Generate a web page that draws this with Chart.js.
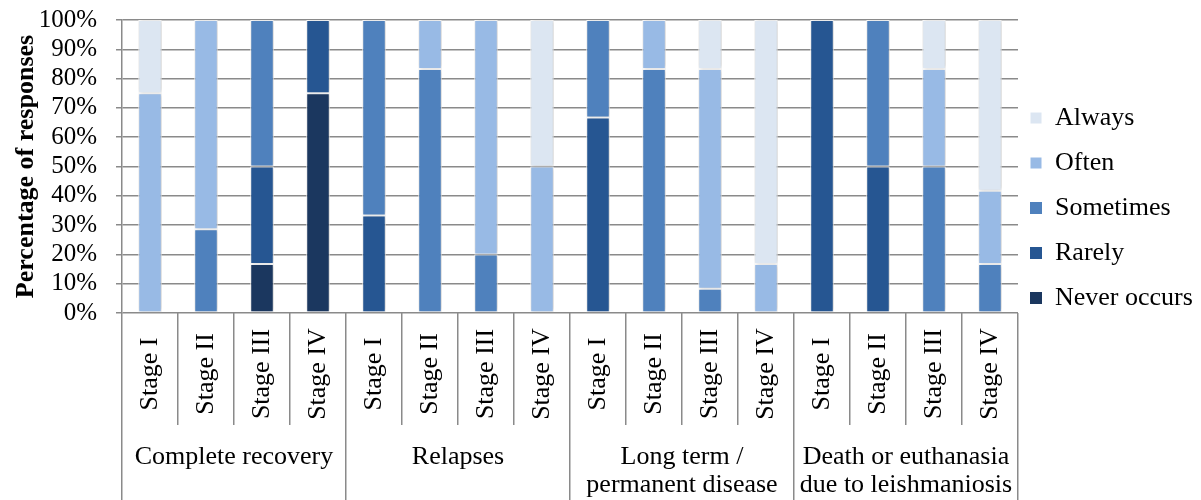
<!DOCTYPE html>
<html><head><meta charset="utf-8">
<script src="https://cdn.jsdelivr.net/npm/chart.js@4/dist/chart.umd.min.js"></script>
<style>html,body{margin:0;padding:0;background:#fff;}</style>
</head><body>
<canvas id="c" width="1201" height="500"></canvas>
<script>
// ---- data ----
const categories = ['Stage I','Stage II','Stage III','Stage IV','Stage I','Stage II','Stage III','Stage IV','Stage I','Stage II','Stage III','Stage IV','Stage I','Stage II','Stage III','Stage IV'];
const groupLabels = [['Complete recovery'], ['Relapses'], ['Long term /', 'permanent disease'], ['Death or euthanasia', 'due to leishmaniosis']];
const seriesNames = ['Never occurs', 'Rarely', 'Sometimes', 'Often', 'Always'];
const neverOccurs = [0, 0, 16.7, 75,   0, 0, 0, 0,       0, 0, 0, 0,        0, 0, 0, 0];
const rarely      = [0, 0, 33.3, 25,   33.3, 0, 0, 0,    66.7, 0, 0, 0,     100, 50, 0, 0];
const sometimes   = [0, 28.6, 50, 0,   66.7, 83.3, 20, 0, 33.3, 83.3, 8.3, 0, 0, 50, 50, 16.7];
const often       = [75, 71.4, 0, 0,   0, 16.7, 80, 50,  0, 16.7, 75, 16.7, 0, 0, 33.3, 25];
const always      = [25, 0, 0, 0,      0, 0, 0, 50,      0, 0, 16.7, 83.3,  0, 0, 16.7, 58.3];
const yTickValues = [0, 10, 20, 30, 40, 50, 60, 70, 80, 90, 100];
const yTitle = 'Percentage of responses';

// ---- styles ----
const FAMILY = '"Liberation Serif", "Times New Roman", serif';
const GRID = '#8a8a8a';
const colors = ['#1b375f', '#265692', '#4f81bd', '#98bae5', '#dce6f2'];
const W = 1201, H = 500;
const PLOT_TOP = 20, PLOT_RIGHT = 1028, PLOT_BOTTOM = 313;
const LEG_PAD = 19, LEG_BOX = 12, LEG_FONT = 26, LEG_BOX_X = 1030, LEG_TOP = 86;

Chart.defaults.font.family = FAMILY;
Chart.defaults.color = '#000';

const mctx = document.createElement('canvas').getContext('2d');
mctx.font = LEG_FONT + 'px ' + FAMILY;
let maxText = 0;
seriesNames.forEach(s => { maxText = Math.max(maxText, mctx.measureText(s).width); });
const legendWidth = LEG_PAD + LEG_BOX + LEG_FONT / 2 + maxText;
const padRight = W - PLOT_RIGHT - legendWidth;

const seriesData = [neverOccurs, rarely, sometimes, often, always];

const axisPlugin = {
  id: 'groupedAxis',
  afterLayout(chart) {
    const lg = chart.legend;
    if (lg) {
      const dx = (LEG_BOX_X - LEG_PAD) - lg.left;
      lg.left += dx; lg.right += dx;
      lg.top = LEG_TOP; lg.bottom = H;
    }
  },
  afterDraw(chart) {
    const ctx = chart.ctx, xs = chart.scales.x, area = chart.chartArea;
    const n = categories.length;
    ctx.save();
    ctx.strokeStyle = GRID; ctx.lineWidth = 1.5;
    for (let i = 0; i <= n; i++) {
      let x;
      if (i === 0) x = area.left;
      else if (i === n) x = area.right;
      else x = (xs.getPixelForValue(i - 1) + xs.getPixelForValue(i)) / 2;
      x = Math.round(x - 0.75) + 0.75;
      const isGroup = i % 4 === 0;
      ctx.beginPath(); ctx.moveTo(x, area.bottom); ctx.lineTo(x, isGroup ? H : 425); ctx.stroke();
    }
    ctx.fillStyle = '#000';
    ctx.font = '26px ' + FAMILY;
    ctx.textAlign = 'center'; ctx.textBaseline = 'middle';
    categories.forEach((c, i) => {
      ctx.save();
      ctx.translate(xs.getPixelForValue(i), 374);
      ctx.rotate(-Math.PI / 2);
      ctx.fillText(c, 0, 0);
      ctx.restore();
    });
    groupLabels.forEach((lines, g) => {
      const cx = (xs.getPixelForValue(g * 4) + xs.getPixelForValue(g * 4 + 3)) / 2;
      lines.forEach((t, k) => ctx.fillText(t, cx, 457 + 28 * k));
    });
    ctx.restore();
  }
};

const shadowPlugin = {
  id: 'barShadow',
  beforeDatasetsDraw(chart) {
    const ctx = chart.ctx;
    ctx.save();
    ctx.shadowColor = 'rgba(0,0,0,0.22)';
    ctx.shadowBlur = 4;
    ctx.shadowOffsetX = 1;
    ctx.shadowOffsetY = 0;
  },
  afterDatasetsDraw(chart) { chart.ctx.restore(); }
};

new Chart(document.getElementById('c'), {
  type: 'bar',
  data: {
    labels: categories,
    datasets: seriesNames.map((name, i) => ({
      label: name,
      data: seriesData[i],
      backgroundColor: colors[i],
      borderColor: '#ffffff',
      borderWidth: c => (c.raw ? 1 : 0),
      borderSkipped: false,
      barPercentage: 0.42,
      categoryPercentage: 1
    }))
  },
  options: {
    responsive: false,
    animation: false,
    devicePixelRatio: 1,
    layout: { padding: { top: PLOT_TOP, left: 0, right: padRight, bottom: H - PLOT_BOTTOM } },
    plugins: {
      legend: {
        display: true,
        position: 'right',
        align: 'start',
        reverse: true,
        labels: {
          boxWidth: LEG_BOX, boxHeight: LEG_BOX, padding: LEG_PAD,
          color: '#000',
          font: { family: FAMILY, size: LEG_FONT }
        }
      },
      tooltip: { enabled: false }
    },
    scales: {
      x: { stacked: true, display: false, offset: true },
      y: {
        stacked: true, min: 0, max: 100,
        afterBuildTicks: s => { s.ticks = yTickValues.map(v => ({ value: v })); },
        ticks: { autoSkip: false, callback: v => v + '%', color: '#000', font: { family: FAMILY, size: 25 }, padding: 19 },
        grid: { color: GRID, lineWidth: 1.5, tickLength: 6, drawTicks: true },
        border: { display: true, color: GRID, width: 1.5 },
        title: { display: true, text: yTitle, color: '#000', font: { family: FAMILY, size: 26, weight: 'bold' }, padding: { top: 11, bottom: 0 } },
        afterFit: s => { s.width = 122; s.paddingTop = 0; s.paddingBottom = 0; }
      }
    }
  },
  plugins: [axisPlugin, shadowPlugin]
});
</script>
</body></html>
